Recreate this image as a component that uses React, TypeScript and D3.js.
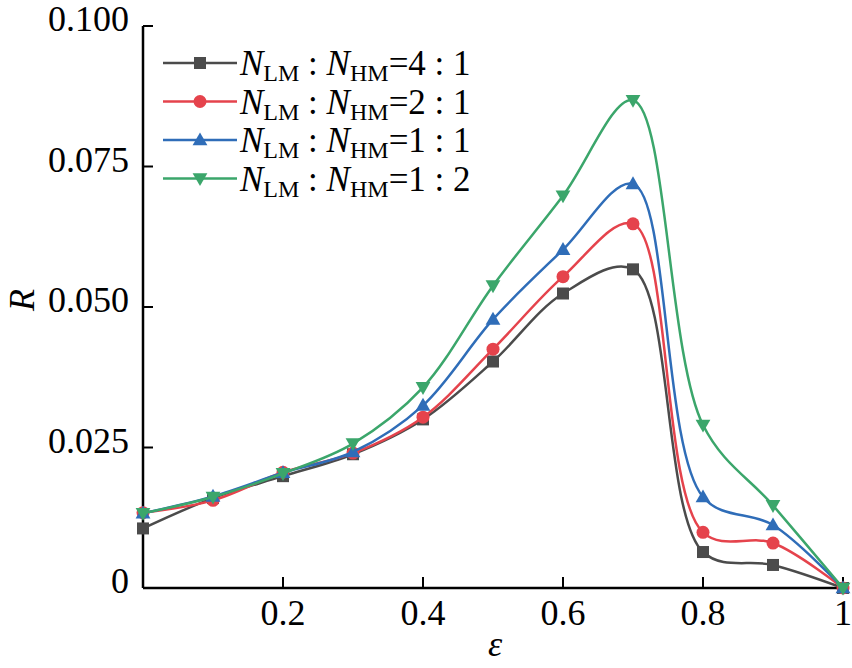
import * as d3 from "d3";
import React from "react";

const W = 852;
const H = 668;

const eps = [0, 0.1, 0.2, 0.3, 0.4, 0.5, 0.6, 0.7, 0.8, 0.9, 1];
const r41 = [0.0106, 0.016, 0.0199, 0.0238, 0.03, 0.0403, 0.0524, 0.0567, 0.0064, 0.0041, 0];
const r21 = [0.0134, 0.0156, 0.0206, 0.024, 0.0304, 0.0425, 0.0554, 0.0648, 0.0099, 0.008, 0];
const r11 = [0.0133, 0.0163, 0.0205, 0.0242, 0.0325, 0.0478, 0.0602, 0.0719, 0.0162, 0.0112, 0];
const r12 = [0.0133, 0.0162, 0.0204, 0.0257, 0.0357, 0.0538, 0.0698, 0.0868, 0.029, 0.0147, 0];

const ratios = ["4 : 1", "2 : 1", "1 : 1", "1 : 2"];
const colors = ["#4b4b4b", "#e5434c", "#2f6db8", "#3ba66b"];
const shapes = ["square", "circle", "up", "down"];
const seriesList = [r41, r21, r11, r12];

const yTicks = [0, 0.025, 0.05, 0.075, 0.1];
const yTickLabels = ["0", "0.025", "0.050", "0.075", "0.100"];
const xTicks = [0.2, 0.4, 0.6, 0.8, 1];
const xTickLabels = ["0.2", "0.4", "0.6", "0.8", "1"];

const serif = { fontFamily: "Liberation Serif" };

const x = d3.scaleLinear().domain([0, 1]).range([143, 843]);
const y = d3.scaleLinear().domain([0, 0.1]).range([588, 26]);

const Marker: React.FC<{ shape: string; cx: number; cy: number; color: string }> = ({ shape, cx, cy, color }) => {
  if (shape === "square") {
    return <rect x={cx - 6} y={cy - 6} width={12} height={12} fill={color} />;
  }
  if (shape === "circle") {
    return <circle cx={cx} cy={cy} r={6.5} fill={color} />;
  }
  const tri = d3.symbol(d3.symbolTriangle, 95)() || "";
  const rot = shape === "down" ? 180 : 0;
  return <path d={tri} fill={color} transform={`translate(${cx},${cy + (shape === "down" ? -1 : 1)}) rotate(${rot})`} />;
};

export default function App() {
  const line = d3
    .line<number>()
    .x((_, i) => x(eps[i]))
    .y((d) => y(d))
    .curve(d3.curveCatmullRom.alpha(0.5));

  return (
    <svg width={W} height={H} style={{ position: "absolute", left: 0, top: 0, background: "#fff" }}>
      {/* axes */}
      <line x1={143} x2={143} y1={y(0.1)} y2={588} stroke="#000" strokeWidth={2.5} />
      <line x1={143} x2={843} y1={588} y2={588} stroke="#000" strokeWidth={2.5} />
      {yTicks.map((t, i) => (
        <g key={"y" + i}>
          {t > 0 && <line x1={143} x2={153} y1={y(t)} y2={y(t)} stroke="#000" strokeWidth={2} />}
          <text x={129} y={y(t) + 5} textAnchor="end" fontSize={36} style={serif}>
            {yTickLabels[i]}
          </text>
        </g>
      ))}
      {xTicks.map((t, i) => (
        <g key={"x" + i}>
          <line x1={x(t)} x2={x(t)} y1={588} y2={577} stroke="#000" strokeWidth={2} />
          <text x={x(t)} y={625} textAnchor="middle" fontSize={36} style={serif}>
            {xTickLabels[i]}
          </text>
        </g>
      ))}
      <text x={495} y={656} textAnchor="middle" fontSize={36} fontStyle="italic" style={serif}>
        ε
      </text>
      <text transform="translate(34,300) rotate(-90)" textAnchor="middle" fontSize={36} fontStyle="italic" style={serif}>
        R
      </text>

      {/* series */}
      {seriesList.map((s, k) => (
        <g key={"s" + k}>
          <path d={line(s) || ""} fill="none" stroke={colors[k]} strokeWidth={2.5} />
          {s.map((v, i) => (
            <Marker key={i} shape={shapes[k]} cx={x(eps[i])} cy={y(v)} color={colors[k]} />
          ))}
        </g>
      ))}

      {/* legend */}
      {ratios.map((r, k) => {
        const ly = 63 + k * 38.5;
        return (
          <g key={"l" + k}>
            <line x1={163} x2={237} y1={ly} y2={ly} stroke={colors[k]} strokeWidth={2.5} />
            <Marker shape={shapes[k]} cx={200} cy={ly} color={colors[k]} />
            <text x={240} y={ly + 12} fontSize={35} style={serif}>
              <tspan fontStyle="italic">N</tspan>
              <tspan fontSize={24} dy={6}>LM</tspan>
              <tspan dy={-6}>{" : "}</tspan>
              <tspan fontStyle="italic">N</tspan>
              <tspan fontSize={24} dy={6}>HM</tspan>
              <tspan dy={-6}>{"=" + r}</tspan>
            </text>
          </g>
        );
      })}
    </svg>
  );
}
